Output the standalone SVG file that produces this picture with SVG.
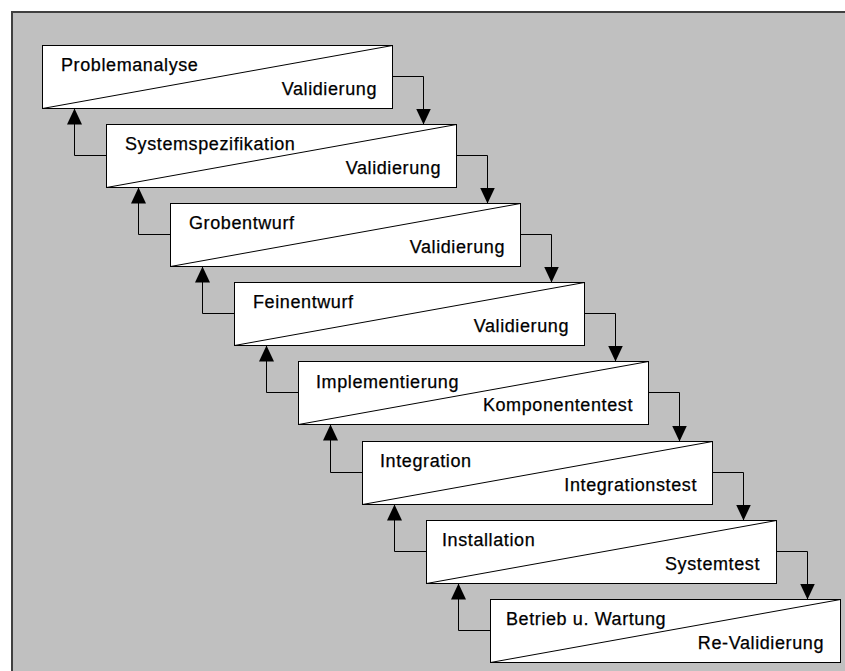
<svg xmlns="http://www.w3.org/2000/svg" width="845" height="671" viewBox="0 0 845 671">
<style>
.box rect{fill:#fff;stroke:#000;stroke-width:1}
.box line{stroke:#000;stroke-width:1}
.t{font-family:"Liberation Sans",Arial,sans-serif;font-size:18px;letter-spacing:0.6px;fill:#000;stroke:#000;stroke-width:0.25}
.r{text-anchor:end}
.c{fill:none;stroke:#000;stroke-width:1}
</style>
<defs>
<marker id="ah" markerUnits="userSpaceOnUse" markerWidth="17" markerHeight="16" refX="16" refY="7.5" orient="auto" viewBox="0 0 17 16">
<path d="M0,0 L16,7.5 L0,15 z" fill="#000"/>
</marker>
</defs>
<rect x="0" y="0" width="845" height="671" fill="#fff"/>
<rect x="12" y="12" width="900" height="700" fill="#c0c0c0" stroke="#404040" stroke-width="2"/>
<g id="connectors">
<path class="c" marker-end="url(#ah)" d="M392.5,76.5 H423.5 V124.5"/>
<path class="c" marker-end="url(#ah)" d="M456.5,155.5 H487.5 V203.5"/>
<path class="c" marker-end="url(#ah)" d="M520.5,234.5 H551.5 V282.5"/>
<path class="c" marker-end="url(#ah)" d="M584.5,313.5 H615.5 V361.5"/>
<path class="c" marker-end="url(#ah)" d="M648.5,392.5 H679.5 V441.5"/>
<path class="c" marker-end="url(#ah)" d="M712.5,472.5 H743.5 V520.5"/>
<path class="c" marker-end="url(#ah)" d="M776.5,551.5 H807.5 V599.5"/>
<path class="c" marker-end="url(#ah)" d="M106.5,155.5 H74.5 V108.5"/>
<path class="c" marker-end="url(#ah)" d="M170.5,234.5 H138.5 V187.5"/>
<path class="c" marker-end="url(#ah)" d="M234.5,313.5 H202.5 V266.5"/>
<path class="c" marker-end="url(#ah)" d="M298.5,392.5 H266.5 V345.5"/>
<path class="c" marker-end="url(#ah)" d="M362.5,472.5 H330.5 V424.5"/>
<path class="c" marker-end="url(#ah)" d="M426.5,551.5 H394.5 V504.5"/>
<path class="c" marker-end="url(#ah)" d="M490.5,630.5 H458.5 V583.5"/>
</g>
<g id="n1" class="box"><rect x="42.5" y="45.5" width="350" height="63"/><line x1="42.5" y1="108.5" x2="392.5" y2="45.5"/><text class="t" x="61" y="71">Problemanalyse</text><text class="t r" x="377" y="95">Validierung</text></g>
<g id="n2" class="box"><rect x="106.5" y="124.5" width="350" height="63"/><line x1="106.5" y1="187.5" x2="456.5" y2="124.5"/><text class="t" x="125" y="150">Systemspezifikation</text><text class="t r" x="441" y="174">Validierung</text></g>
<g id="n3" class="box"><rect x="170.5" y="203.5" width="350" height="63"/><line x1="170.5" y1="266.5" x2="520.5" y2="203.5"/><text class="t" x="189" y="229">Grobentwurf</text><text class="t r" x="505" y="253">Validierung</text></g>
<g id="n4" class="box"><rect x="234.5" y="282.5" width="350" height="63"/><line x1="234.5" y1="345.5" x2="584.5" y2="282.5"/><text class="t" x="253" y="308">Feinentwurf</text><text class="t r" x="569" y="332">Validierung</text></g>
<g id="n5" class="box"><rect x="298.5" y="361.5" width="350" height="63"/><line x1="298.5" y1="424.5" x2="648.5" y2="361.5"/><text class="t" x="316" y="388">Implementierung</text><text class="t r" x="633" y="411">Komponententest</text></g>
<g id="n6" class="box"><rect x="362.5" y="441.5" width="350" height="63"/><line x1="362.5" y1="504.5" x2="712.5" y2="441.5"/><text class="t" x="380" y="467">Integration</text><text class="t r" x="697" y="491">Integrationstest</text></g>
<g id="n7" class="box"><rect x="426.5" y="520.5" width="350" height="63"/><line x1="426.5" y1="583.5" x2="776.5" y2="520.5"/><text class="t" x="442" y="546">Installation</text><text class="t r" x="760" y="570">Systemtest</text></g>
<g id="n8" class="box"><rect x="490.5" y="599.5" width="350" height="63"/><line x1="490.5" y1="662.5" x2="840.5" y2="599.5"/><text class="t" x="506" y="625">Betrieb u. Wartung</text><text class="t r" x="824" y="649">Re-Validierung</text></g>
</svg>
